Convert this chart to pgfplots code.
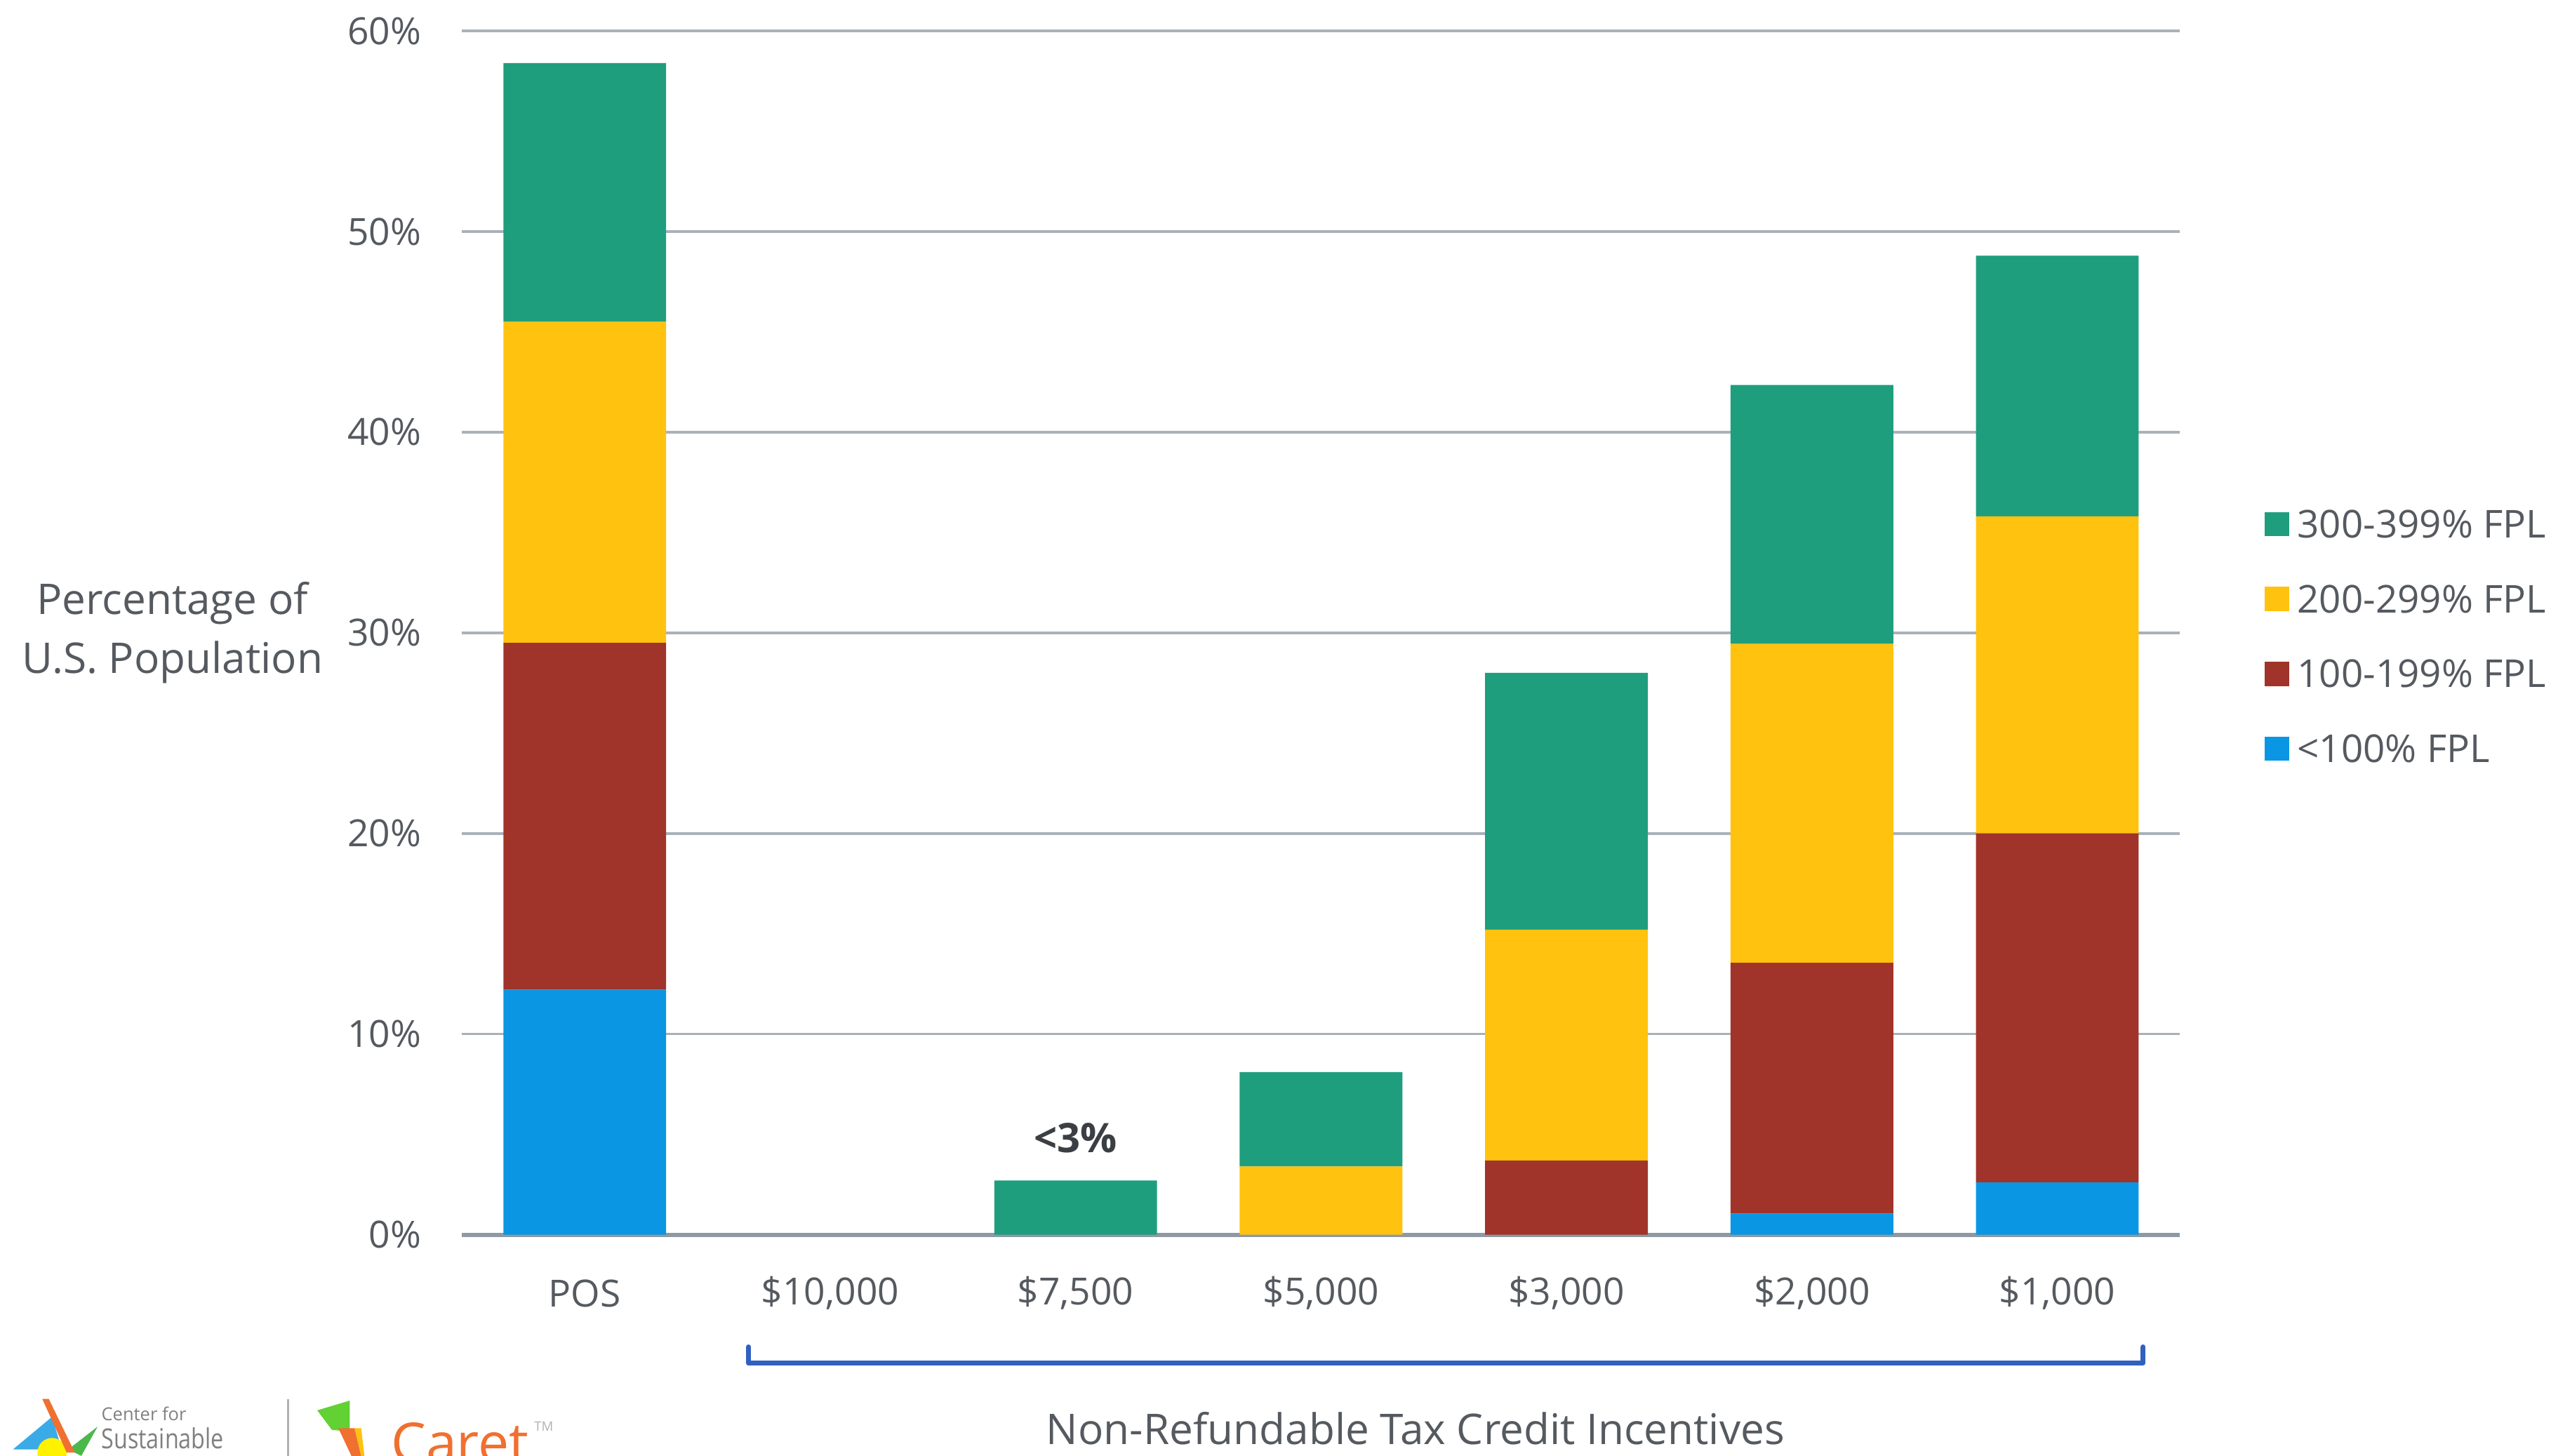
\documentclass[border=0pt]{standalone}
\usepackage{pgfplots}
\pgfplotsset{compat=1.18}
\usepackage{fontspec}
\setmainfont{Open Sans}
\definecolor{cGreen}{HTML}{1F9E7E}
\definecolor{cYellow}{HTML}{FFC20E}
\definecolor{cRed}{HTML}{A0342A}
\definecolor{cBlue}{HTML}{0A96E2}
\definecolor{txt}{HTML}{555A60}
\definecolor{gridc}{HTML}{A9B1B9}
\definecolor{axc}{HTML}{8E99A4}
\definecolor{brk}{HTML}{3060C0}
\definecolor{caret}{HTML}{F07030}
\begin{document}
\begin{tikzpicture}
\useasboundingbox (-142pt,-68pt) rectangle (642pt,379.5pt);
\begin{axis}[
  at={(0,0)}, anchor=south west,
  scale only axis, width=528pt, height=370pt,
  xmin=-0.5, xmax=6.5, ymin=0, ymax=60,
  ybar stacked, bar width=50pt,
  clip=false,
  xtick={0,...,6},
  xticklabels={POS,{\$10,000},{\$7,500},{\$5,000},{\$3,000},{\$2,000},{\$1,000}},
  ytick={0,10,...,60},
  yticklabels={0\%,10\%,20\%,30\%,40\%,50\%,60\%},
  /pgf/number format/assume math mode=true,
  ymajorgrids, grid style={gridc, line width=0.8pt},
  axis line style={draw=none},
  major tick length=0pt,
  tick label style={font=\fontsize{11.5}{13}\selectfont, text=txt},
  xticklabel style={anchor=center, yshift=-18pt},
  yticklabel style={anchor=east, xshift=-9pt},
  reverse legend,
  legend style={at={(1.049,0.497)}, anchor=west, draw=none, fill=none,
    inner sep=0pt, row sep=14.5pt, column sep=2.5pt,
    font=\fontsize{11.8}{13}\selectfont, text=txt,
    nodes={inner sep=0pt, text height=8.5pt, text depth=0pt, anchor=west}},
  legend cell align=left,
  legend image code/.code={\fill[#1] (0pt,-3.75pt) rectangle (7.5pt,3.75pt);},
]
\addplot[fill=cBlue, draw=none] coordinates {(0,12.2) (1,0) (2,0) (3,0) (4,0) (5,1.05) (6,2.6)};
\addplot[fill=cRed, draw=none] coordinates {(0,17.3) (1,0) (2,0) (3,0) (4,3.7) (5,12.5) (6,17.4)};
\addplot[fill=cYellow, draw=none] coordinates {(0,16.0) (1,0) (2,0) (3,3.4) (4,11.5) (5,15.9) (6,15.8)};
\addplot[fill=cGreen, draw=none] coordinates {(0,12.9) (1,0) (2,2.7) (3,4.7) (4,12.8) (5,12.9) (6,13.0)};
\legend{<100\% FPL, 100-199\% FPL, 200-299\% FPL, 300-399\% FPL}
\draw[axc, line width=1.3pt] (axis cs:-0.5,0) -- (axis cs:6.5,0);
\node[font=\bfseries\fontsize{12.5}{14}\selectfont, text=txt!70!black] at (axis cs:2,2.7) [yshift=13pt] {<3\%};
\draw[brk, line width=1.5pt, line cap=round, line join=round]
  ([yshift=-34.5pt]axis cs:0.667,0) -- ([yshift=-39.5pt]axis cs:0.667,0)
  -- ([yshift=-39.5pt]axis cs:6.35,0) -- ([yshift=-34.5pt]axis cs:6.35,0);
\end{axis}
\node[font=\fontsize{13}{18}\selectfont, text=txt, align=center] at (-89pt,185pt) {Percentage of\\U.S. Population};
\node[font=\fontsize{13}{14}\selectfont, text=txt] at (293pt,-59.5pt) {Non-Refundable Tax Credit Incentives};
% logos
\fill[cBlue!80] (-138pt,-66pt) -- (-126pt,-56pt) -- (-123pt,-66pt) -- cycle;
\fill[yellow] (-126pt,-67pt) circle (4.5pt);
\fill[green!60!black!70] (-121pt,-66pt) -- (-112pt,-59pt) -- (-117pt,-68pt) -- cycle;
\fill[caret] (-129pt,-50.5pt) -- (-127pt,-50.5pt) -- (-119pt,-67pt) -- (-121.5pt,-67pt) -- cycle;
\node[anchor=west, font=\fontsize{5.5}{6}\selectfont, text=gray, inner sep=0pt] at (-111pt,-55pt) {Center for};
\node[anchor=west, font=\fontsize{8.5}{9}\selectfont, text=gray, inner sep=0pt, xscale=0.82] at (-111pt,-62.5pt) {Sustainable};
\draw[gray!60, line width=0.6pt] (-53.5pt,-50.5pt) -- (-53.5pt,-68pt);
\fill[green!55!olive!80] (-44.5pt,-54pt) -- (-34.5pt,-51pt) -- (-34.5pt,-60.5pt) -- (-40pt,-60pt) -- cycle;
\fill[caret] (-38pt,-59.5pt) -- (-33pt,-59.5pt) -- (-31pt,-68pt) -- (-34pt,-68pt) -- cycle;
\fill[cYellow] (-33pt,-59.5pt) -- (-31pt,-59.5pt) -- (-30pt,-68pt) -- (-31pt,-68pt) -- cycle;
\node[anchor=base west, font=\fontsize{17}{18}\selectfont, text=caret, inner sep=0pt] at (-22pt,-70pt) {Caret};
\node[anchor=west, font=\fontsize{4}{5}\selectfont, text=gray!60, inner sep=0pt] at (22pt,-59pt) {TM};
\end{tikzpicture}
\end{document}
